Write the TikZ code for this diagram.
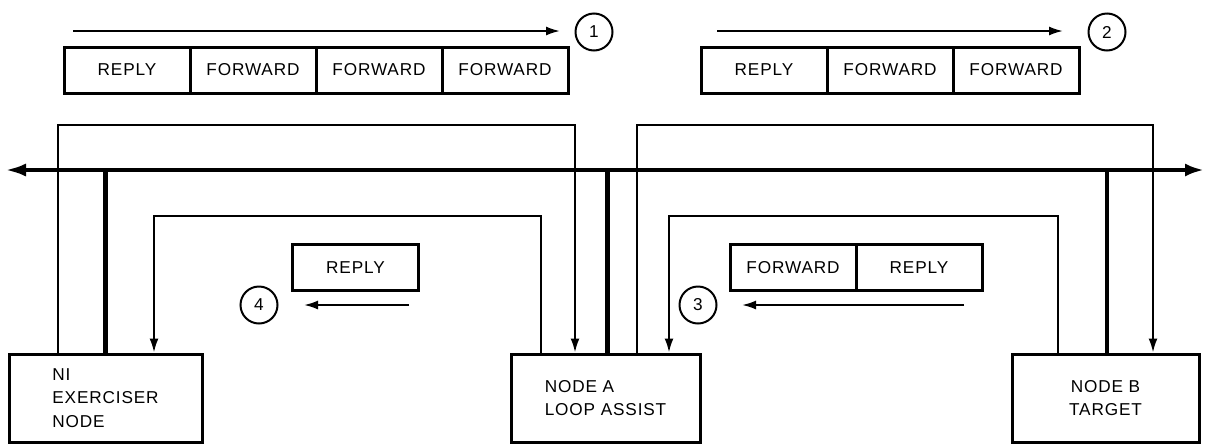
\documentclass[tikz,border=0pt]{standalone}
\usepackage{fontspec}
\newfontfamily\dgfont{Liberation Sans}[LetterSpace=5]
\usetikzlibrary{arrows.meta}
\usetikzlibrary{shapes}

\begin{document}
\begin{tikzpicture}[x=1pt, y=-1pt]
\tikzset{
   node distance = 126pt, >={Latex[length=14pt, width=9pt]},
   cell/.style = {rectangle, draw, line width = 3pt, minimum width = 126pt, minimum height = 46pt, inner sep = 0pt, font = \dgfont\fontsize{17.2}{23.5}\selectfont},
   station/.style = {rectangle, draw, line width = 3pt, minimum height = 88pt, inner sep = 0pt, align = left, font = \dgfont\fontsize{17.2}{23.5}\selectfont},
   seqnum/.style = {circle, draw, line width = 2pt, minimum size = 37pt, inner sep = 0pt, font = \dgfont\fontsize{17.2}{20}\selectfont},
   link/.style = {line width = 2pt, ->},
   trunk/.style = {line width = 4.4pt}
}
  \useasboundingbox (0,0) rectangle (1206,445);

  % packets on the wire
  \node[cell] (r1a) at (127,70) {REPLY};
  \node[cell] (r1b) [right of = r1a] {FORWARD};
  \node[cell] (r1c) [right of = r1b] {FORWARD};
  \node[cell] (r1d) [right of = r1c] {FORWARD};

  \node[cell] (r2a) at (764,70) {REPLY};
  \node[cell] (r2b) [right of = r2a] {FORWARD};
  \node[cell] (r2c) [right of = r2b] {FORWARD};

  \node[cell] (r3a) at (793,267.5) {FORWARD};
  \node[cell] (r3b) [right of = r3a] {REPLY};

  \node[cell] (r4a) at (355.5,267.5) {REPLY};

  \node[seqnum] (s1) at (594,32) {1};
  \node[seqnum] (s2) at (1107,32) {2};
  \node[seqnum] (s3) at (698,305) {3};
  \node[seqnum] (s4) at (259,305) {4};

  \coordinate (m1s) at (73,31);
  \coordinate (m1e) at (560,31);
  \coordinate (m2s) at (717,31);
  \coordinate (m2e) at (1063,31);
  \coordinate (m3s) at (964,305);
  \coordinate (m3e) at (742,305);
  \coordinate (m4s) at (409,305);
  \coordinate (m4e) at (304,305);
  \draw[link] (m1s) -- (m1e);
  \draw[link] (m2s) -- (m2e);
  \draw[link] (m3s) -- (m3e);
  \draw[link] (m4s) -- (m4e);

  % stations
  \node[station, minimum width = 193pt] (ni) at (105.5,398) {NI\\EXERCISER\\NODE};
  \node[station, minimum width = 189pt] (nodea) at (605.5,398) {NODE A\\LOOP ASSIST};
  \node[station, minimum width = 187pt, align = center] (nodeb) at (1105.5,398) {NODE B\\TARGET};

  % the cable
  \coordinate (west) at (5,170);
  \coordinate (east) at (1204,170);
  \draw[trunk, {Latex[length=21pt, width=13pt]}-{Latex[length=19pt, width=13pt]}] (west) -- (east);
  \draw[trunk] (ni.north) -- (ni.north |- west);
  \draw[trunk] ([xshift=2pt]nodea.north) -- ([xshift=2pt]nodea.north |- west);
  \draw[trunk] ([xshift=1.5pt]nodeb.north) -- ([xshift=1.5pt]nodeb.north |- west);

  % loop paths
  \coordinate (lout1) at (58,125);
  \coordinate (lout2) at (575,125);
  \coordinate (lin1) at (541,216);
  \coordinate (lin2) at (154,216);
  \coordinate (rout1) at (637,125);
  \coordinate (rout2) at (1153,125);
  \coordinate (rin1) at (1058,216);
  \coordinate (rin2) at (669,216);
  \draw[link] (ni.north -| lout1) |- (lout2) -- (nodea.north -| lout2);
  \draw[link] (nodea.north -| lin1) |- (lin2) -- (ni.north -| lin2);
  \draw[link] (nodea.north -| rout1) |- (rout2) -- (nodeb.north -| rout2);
  \draw[link] (nodeb.north -| rin1) |- (rin2) -- (nodea.north -| rin2);

\end{tikzpicture}
\end{document}
